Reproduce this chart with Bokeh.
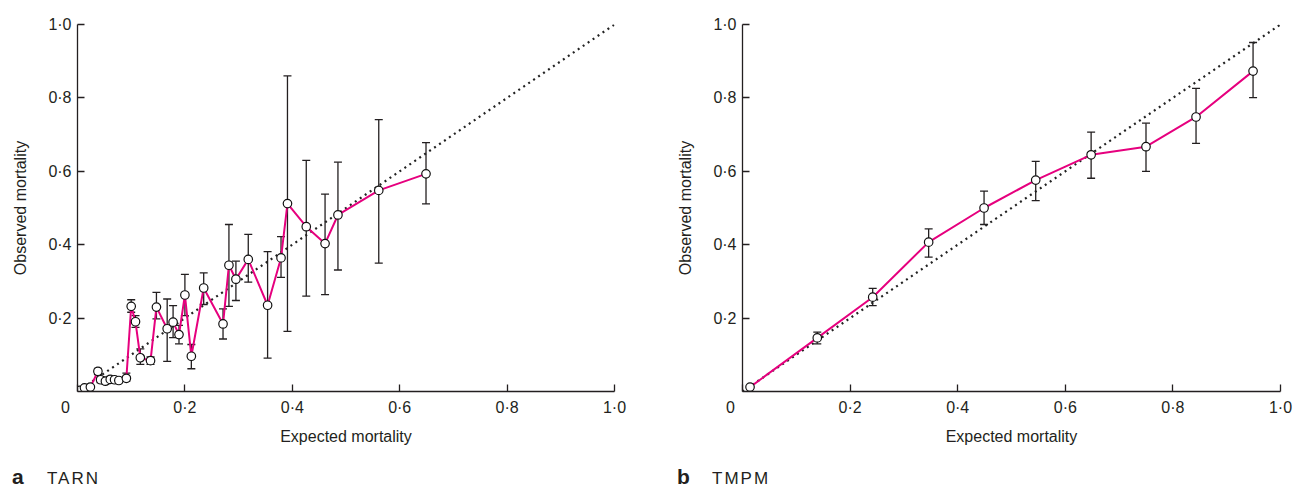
from bokeh.plotting import figure
from bokeh.models import Range1d, FixedTicker, Whisker, TeeHead, ColumnDataSource, Div
from bokeh.layouts import row, column
from bokeh.embed import file_html
from bokeh.resources import INLINE

# ---------------- data ----------------
x_tick_values = [0.0, 0.2, 0.4, 0.6, 0.8, 1.0]
x_tick_labels = ["0\u2003\u2002", "0·2", "0·4", "0·6", "0·8", "1·0"]
y_tick_values = [0.2, 0.4, 0.6, 0.8, 1.0]
y_tick_labels = ["0·2", "0·4", "0·6", "0·8", "1·0"]
diag = [0.0, 1.0]

# Panel a: TARN
tarn_expected = [0.004, 0.013, 0.024, 0.038, 0.043, 0.052, 0.061, 0.069, 0.077, 0.091,
                 0.100, 0.108, 0.117, 0.136, 0.147, 0.167, 0.178, 0.189, 0.200, 0.212,
                 0.235, 0.271, 0.282, 0.295, 0.318, 0.354, 0.379, 0.391, 0.426, 0.461,
                 0.485, 0.561, 0.649]
tarn_observed = [0.003, 0.010, 0.012, 0.055, 0.032, 0.028, 0.033, 0.032, 0.030, 0.036,
                 0.232, 0.190, 0.092, 0.084, 0.230, 0.171, 0.189, 0.155, 0.263, 0.096,
                 0.282, 0.184, 0.344, 0.306, 0.360, 0.235, 0.364, 0.512, 0.449, 0.403,
                 0.481, 0.548, 0.593]
tarn_lower = [None, None, None, 0.046, 0.024, 0.020, 0.026, 0.025, 0.024, 0.028,
              0.216, 0.175, 0.074, 0.074, 0.198, 0.082, 0.147, 0.130, 0.207, 0.062,
              0.237, 0.143, 0.232, 0.248, 0.298, 0.091, 0.311, 0.164, 0.260, 0.264,
              0.331, 0.350, 0.511]
tarn_upper = [None, None, None, 0.063, 0.040, 0.038, 0.041, 0.040, 0.037, 0.050,
              0.250, 0.207, 0.116, 0.094, 0.270, 0.252, 0.234, 0.180, 0.319, 0.128,
              0.323, 0.225, 0.455, 0.355, 0.428, 0.381, 0.422, 0.860, 0.630, 0.538,
              0.625, 0.741, 0.678]

# Panel b: TMPM
tmpm_expected = [0.014, 0.139, 0.242, 0.346, 0.449, 0.545, 0.648, 0.750, 0.843, 0.949]
tmpm_observed = [0.012, 0.146, 0.257, 0.407, 0.500, 0.576, 0.645, 0.667, 0.748, 0.873]
tmpm_lower = [None, 0.130, 0.234, 0.366, 0.455, 0.520, 0.581, 0.600, 0.676, 0.801]
tmpm_upper = [None, 0.162, 0.281, 0.443, 0.546, 0.627, 0.707, 0.731, 0.826, 0.951]

x_title = "Expected mortality"
y_title = "Observed mortality"
panels = [("a", "TARN"), ("b", "TMPM")]

# ---------------- style ----------------
FONT = "Liberation Sans"
PINK = "#E6007E"
INK = "#231f20"
TXT = "#231f20"


def make_panel(xs, ys, lo, hi, width, border_left, border_right):
    p = figure(width=width, height=465,
               x_range=Range1d(0, 1), y_range=Range1d(0, 1),
               output_backend="svg", toolbar_location=None,
               min_border_left=border_left, min_border_right=border_right,
               min_border_top=24, min_border_bottom=74)
    p.outline_line_color = None
    p.grid.visible = False
    p.background_fill_color = "white"
    p.border_fill_color = "white"

    p.xaxis.ticker = FixedTicker(ticks=x_tick_values)
    p.xaxis.major_label_overrides = dict(zip(x_tick_values, x_tick_labels))
    p.yaxis.ticker = FixedTicker(ticks=y_tick_values)
    p.yaxis.major_label_overrides = dict(zip(y_tick_values, y_tick_labels))

    for ax in (p.xaxis[0], p.yaxis[0]):
        ax.minor_tick_line_color = None
        ax.major_tick_in = 7
        ax.major_tick_out = 0
        ax.axis_line_color = INK
        ax.axis_line_width = 1.3
        ax.major_tick_line_color = INK
        ax.major_tick_line_width = 1.3
        ax.major_label_text_font = FONT
        ax.major_label_text_font_size = "16px"
        ax.major_label_text_color = TXT
        ax.axis_label_text_font = FONT
        ax.axis_label_text_font_size = "16px"
        ax.axis_label_text_font_style = "normal"
        ax.axis_label_text_color = TXT

    p.xaxis.axis_label = x_title
    p.yaxis.axis_label = y_title
    p.xaxis.major_label_standoff = 7
    p.yaxis.major_label_standoff = 6
    p.xaxis.axis_label_standoff = 9
    p.yaxis.axis_label_standoff = 16

    # identity line
    p.line(diag, diag, line_color="#222222", line_width=2.2, line_dash="2 4")

    # calibration line
    p.line(xs, ys, line_color=PINK, line_width=2)

    # error bars
    idx = [i for i in range(len(xs)) if lo[i] is not None]
    wsrc = ColumnDataSource(data=dict(x=[xs[i] for i in idx],
                                      lo=[lo[i] for i in idx],
                                      hi=[hi[i] for i in idx]))
    p.add_layout(Whisker(source=wsrc, base="x", lower="lo", upper="hi",
                         dimension="height", line_color=INK, line_width=1.3,
                         upper_head=TeeHead(size=8, line_color=INK, line_width=1.3),
                         lower_head=TeeHead(size=8, line_color=INK, line_width=1.3)))

    # points
    p.scatter(xs, ys, size=8.5, fill_color="white", line_color="#111111", line_width=1.2)
    return p


def caption(letter, name, width, left):
    html = (
        '<div style="position:relative;width:%dpx;height:28px;'
        'font-family:\'Liberation Sans\',Arial,sans-serif;color:%s;">'
        '<span style="position:absolute;left:%dpx;top:1px;font-size:21px;'
        'line-height:21px;font-weight:bold;">%s</span>'
        '<span style="position:absolute;left:%dpx;top:5px;font-size:17px;'
        'line-height:17px;letter-spacing:2px;">%s</span>'
        '</div>' % (width, TXT, left, letter, left + 35, name)
    )
    return Div(text=html, width=width, height=28, margin=(0, 0, 0, 0))


pa = make_panel(tarn_expected, tarn_observed, tarn_lower, tarn_upper,
                width=673, border_left=77, border_right=59)
pb = make_panel(tmpm_expected, tmpm_observed, tmpm_lower, tmpm_upper,
                width=622, border_left=69, border_right=15)

ca = caption(panels[0][0], panels[0][1], 673, 12)
cb = caption(panels[1][0], panels[1][1], 622, 4)

layout = column(row(pa, pb), row(ca, cb))
open("out.html", "w").write(file_html(layout, INLINE))
